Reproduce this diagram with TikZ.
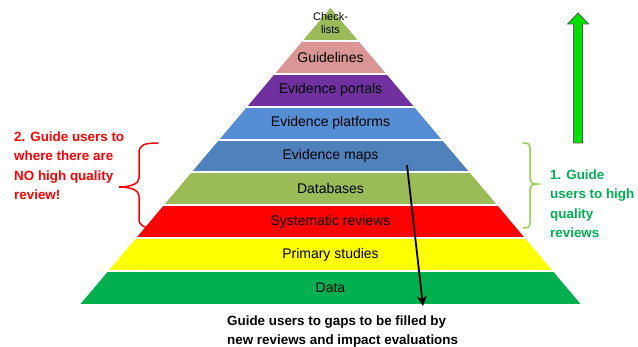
\documentclass[tikz,border=0pt]{standalone}
\usepackage{fontspec}
\setmainfont{Liberation Sans}
\usetikzlibrary{arrows.meta}
\definecolor{cchk}{HTML}{9BBB59}
\definecolor{cguide}{HTML}{D99694}
\definecolor{cportal}{HTML}{7030A0}
\definecolor{cplat}{HTML}{558ED5}
\definecolor{cmaps}{HTML}{4F81BD}
\definecolor{cdb}{HTML}{9BBB59}
\definecolor{csys}{HTML}{FF0000}
\definecolor{cprim}{HTML}{FFFF00}
\definecolor{cdata}{HTML}{00B050}
\definecolor{cgood}{HTML}{00B050}
\definecolor{cbrace}{HTML}{92D050}
\definecolor{cup}{HTML}{00E000}

\begin{document}
\begin{tikzpicture}[x=1pt, y=-1pt,
    tier/.style={font=\fontsize{14}{16}\selectfont, text=black, inner sep=0pt},
    sep/.style={draw=white, line width=2pt},
    note/.style={font=\fontsize{13.4}{19.5}\selectfont\bfseries, align=left, anchor=west, inner sep=0pt},
    brace/.style={line width=1.5pt, line cap=round},
    gap/.style={-{Stealth[length=10pt, width=10pt]}, line width=1.8pt, draw=black}
]
\useasboundingbox (0,0) rectangle (638,347);
% pyramid tiers
\fill[cchk] (330.5,8) -- (358.3,40.9) -- (302.7,40.9) -- cycle;
\fill[cguide] (302.7,40.9) -- (358.3,40.9) -- (386.1,73.8) -- (274.9,73.8) -- cycle;
\fill[cportal] (274.9,73.8) -- (386.1,73.8) -- (413.8,106.7) -- (247.2,106.7) -- cycle;
\fill[cplat] (247.2,106.7) -- (413.8,106.7) -- (441.6,139.6) -- (219.4,139.6) -- cycle;
\fill[cmaps] (219.4,139.6) -- (441.6,139.6) -- (469.4,172.4) -- (191.6,172.4) -- cycle;
\fill[cdb] (191.6,172.4) -- (469.4,172.4) -- (497.2,205.3) -- (163.8,205.3) -- cycle;
\fill[csys] (163.8,205.3) -- (497.2,205.3) -- (524.9,238.2) -- (136.1,238.2) -- cycle;
\fill[cprim] (136.1,238.2) -- (524.9,238.2) -- (552.7,271.1) -- (108.3,271.1) -- cycle;
\fill[cdata] (108.3,271.1) -- (552.7,271.1) -- (580.5,304) -- (80.5,304) -- cycle;
% white gaps between tiers
\draw[sep] (301,40.9) -- (360,40.9);
\draw[sep] (273,73.8) -- (388,73.8);
\draw[sep] (245,106.7) -- (416,106.7);
\draw[sep] (217,139.6) -- (444,139.6);
\draw[sep] (189,172.4) -- (472,172.4);
\draw[sep] (161,205.3) -- (500,205.3);
\draw[sep] (133,238.2) -- (528,238.2);
\draw[sep] (105,271.1) -- (556,271.1);

\node[tier, align=center, font=\fontsize{11}{13}\selectfont] (checklists) at (330.5,23) {Check-\\lists};
\node[tier] (guidelines) at (330.5,57.3) {Guidelines};
\node[tier] (portals) at (330.5,90.2) {Evidence portals};
\node[tier] (platforms) at (330.5,123.1) {Evidence platforms};
\node[tier] (maps) at (330.5,156) {Evidence maps};
\node[tier] (databases) at (330.5,188.9) {Databases};
\node[tier] (sysreviews) at (330.5,221.8) {Systematic reviews};
\node[tier] (primary) at (330.5,254.7) {Primary studies};
\node[tier] (data) at (330.5,287.6) {Data};

% side notes
\node[note, text=red] (nohigh) at (14,165.5) {2. Guide users to\\where there are\\NO high quality\\review!};
\node[note, text=cgood] (tohigh) at (550,203.5) {1. Guide\\users to high\\quality\\reviews};
\node[note, text=black] (gaps) at (227,331.5) {Guide users to gaps to be filled by\\new reviews and impact evaluations};

% braces
\draw[brace, draw=red] (158,143) .. controls (144,143) and (139,145) .. (139,153) -- (139,178) .. controls (139,184) and (130,187) .. (119,187) .. controls (130,187) and (139,190) .. (139,196) -- (139,219) .. controls (139,226) and (144,228) .. (156,228);
\draw[brace, draw=cbrace] (523,143) .. controls (528,143) and (530,144) .. (530,148) -- (530,179) .. controls (530,182) and (532,184) .. (537,184) .. controls (532,184) and (530,186) .. (530,189) -- (530,223) .. controls (530,227) and (528,228) .. (523,228);

% up arrow
\filldraw[fill=cup, draw=black!65, line width=0.8pt] (573.5,143) -- (573.5,24) -- (567.5,24) -- (578,13) -- (588.5,24) -- (582.5,24) -- (582.5,143) -- cycle;

% gap arrow
\coordinate (mapsfrom) at (407,165);
\coordinate (gapsto) at (423,306);
\draw[gap] (mapsfrom) -- (gapsto);
\end{tikzpicture}
\end{document}
